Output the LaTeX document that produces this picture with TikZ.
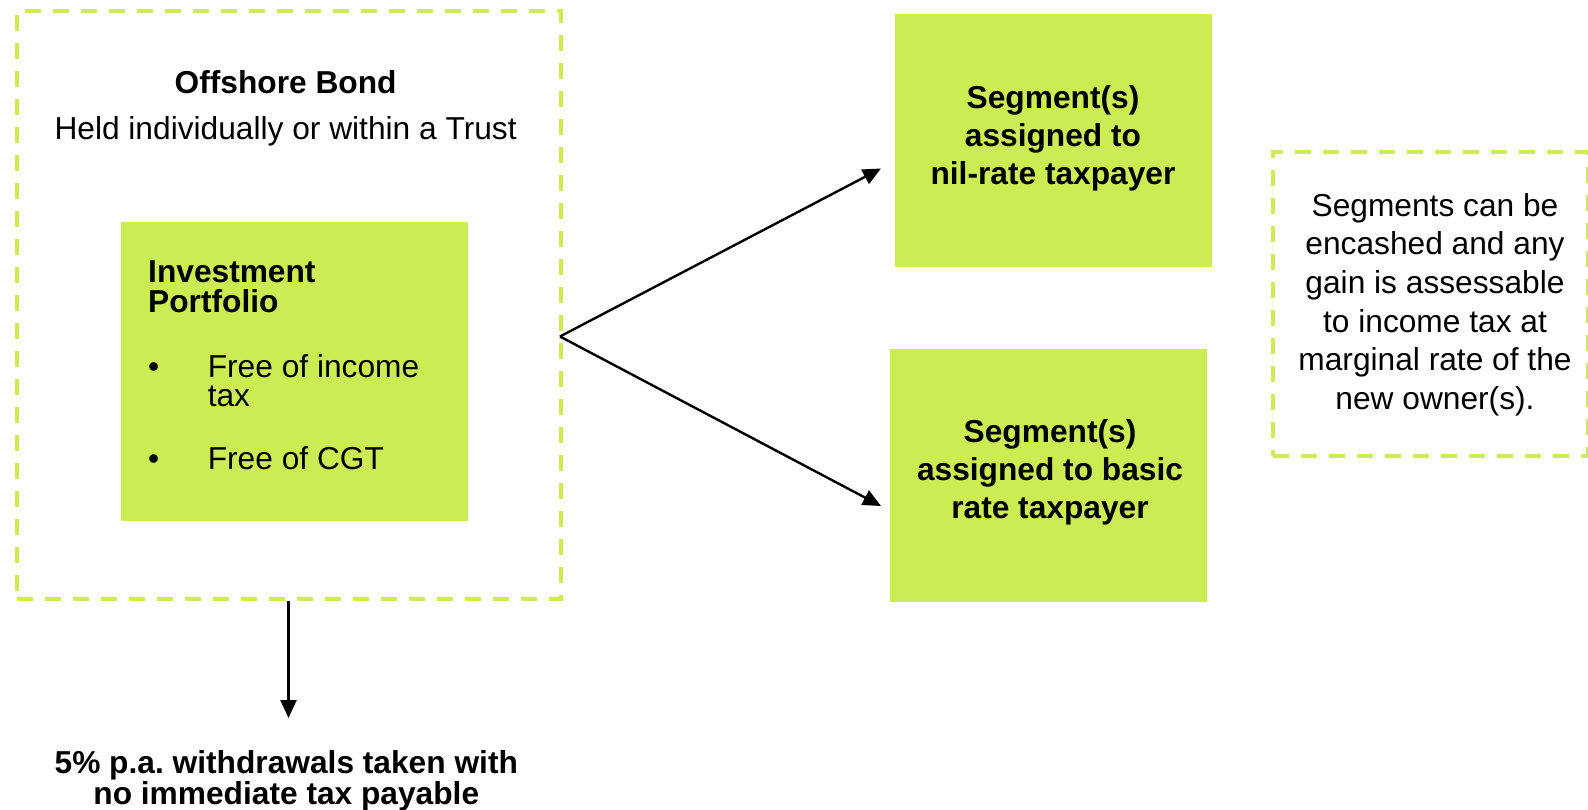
\documentclass[tikz,border=0pt]{standalone}
\usepackage{fontspec}
\setmainfont{Liberation Sans}
\usetikzlibrary{arrows.meta}
\definecolor{lime}{RGB}{204,236,84}
\tikzset{
  dashbox/.style={draw=lime, line width=4pt, dash pattern=on 16pt off 12pt, inner sep=0pt, anchor=north west},
  fillbox/.style={fill=lime, draw=none, inner sep=0pt, anchor=north west},
  txt/.style={inner sep=0pt, font=\fontsize{31.7}{38.6}\selectfont, align=center},
  tighttxt/.style={inner sep=0pt, font=\fontsize{31.7}{30.4}\selectfont},
  arr/.style={line width=2.4pt, -{Triangle[length=18pt,width=16pt]}},
}
\begin{document}
\frenchspacing
\begin{tikzpicture}[x=1pt,y=-1pt]
\useasboundingbox (0,0) rectangle (1588,809);
% boxes
\node[dashbox, minimum width=544pt, minimum height=588pt] (bond) at (14.5,8.5) {};
\node[fillbox, minimum width=347.4pt, minimum height=298.8pt] (port) at (120.5,221.8) {};
\node[fillbox, minimum width=317pt, minimum height=253pt] (segA) at (894.3,14.2) {};
\node[fillbox, minimum width=317pt, minimum height=253pt] (segB) at (890.2,348.4) {};
\node[dashbox, minimum width=315pt, minimum height=304pt] (note) at (1271,150) {};
% texts
\node[txt, font=\fontsize{31.7}{38}\selectfont\bfseries] (title) at (285.6,82) {Offshore Bond};
\node[txt] (held) at (285.6,131.5) {Held individually or within a Trust};
\node[tighttxt, anchor=west, align=left, font=\fontsize{31.7}{30.4}\selectfont\bfseries] (ptitle) at (148,287) {Investment\\Portfolio};
\node[tighttxt, anchor=west, align=left, font=\fontsize{31.7}{29.4}\selectfont] (t1) at (148,380.5) {\makebox[59.6pt][l]{\textbullet}Free of income\\\hspace*{59.6pt}tax};
\node[tighttxt, anchor=west] (t2) at (148,457.8) {\makebox[59.6pt][l]{\textbullet}Free of CGT};
\node[txt, font=\fontsize{31.7}{38.2}\selectfont\bfseries] (segAt) at (1053,138.5) {Segment(s)\\assigned to\\nil-rate taxpayer};
\node[txt, font=\fontsize{31.7}{38.2}\selectfont\bfseries] (segBt) at (1050,472.5) {Segment(s)\\assigned to basic\\rate taxpayer};
\node[txt] (notet) at (1435,304.5) {Segments can be\\encashed and any\\gain is assessable\\to income tax at\\marginal rate of the\\new owner(s).};
\node[tighttxt, align=center, font=\fontsize{31.7}{31}\selectfont\bfseries] (wd) at (286.3,780.5) {5\% p.a. withdrawals taken with\\no immediate tax payable};
% connectors
\coordinate (split) at (560,336.5);
\coordinate (tipA) at (881,168.5);
\coordinate (tipB) at (881,506);
\draw[arr] (split) -- (tipA);
\draw[arr] (split) -- (tipB);
\draw[arr] (bond.south) -- ([yshift=32pt]bond.south |- wd.north);
\end{tikzpicture}
\end{document}
